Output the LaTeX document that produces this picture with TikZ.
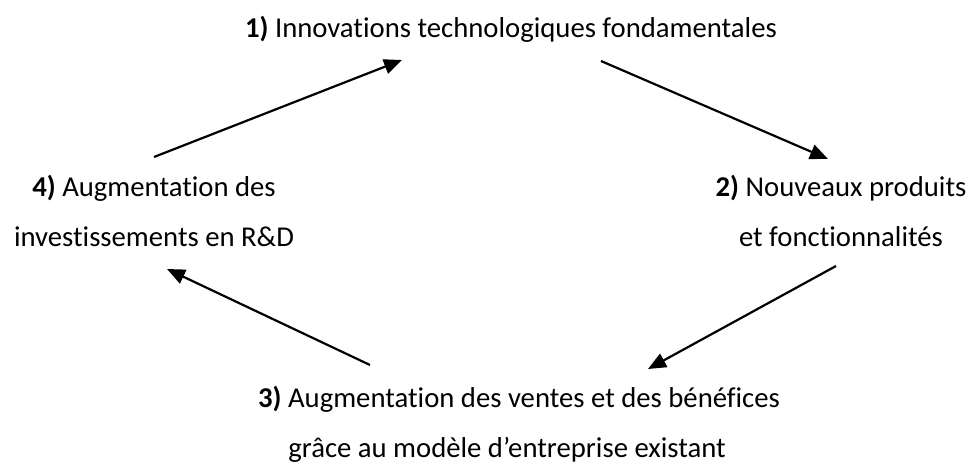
\documentclass[tikz,border=0pt]{standalone}
\usepackage{fontspec}
\setmainfont{Carlito}[Ligatures={NoCommon,NoContextual}]
\usetikzlibrary{arrows.meta}
\begin{document}
\begin{tikzpicture}[x=1pt,y=-1pt,
  lbl/.style={align=center,inner sep=0pt,font=\fontsize{28.7}{50}\selectfont,text=black},
  arr/.style={line width=2.2pt,-{Triangle[length=18pt,width=15pt]}}]
\useasboundingbox (0,0) rectangle (970,468);
\node[lbl] (n1) at (511,29) {\textbf{1)} Innovations technologiques fondamentales};
\node[lbl] (n2) at (841,211) {\textbf{2)} Nouveaux produits\\et fonctionnalités};
\node[lbl] (n3) at (519,424) {\textbf{3)} Augmentation des ventes et des bénéfices\\grâce au modèle d’entreprise existant\hspace*{24pt}};
\node[lbl] (n4) at (154,211) {\textbf{4)} Augmentation des\\investissements en R\&D};
\coordinate (a1s) at (154,157);
\coordinate (a1e) at (402,60);
\coordinate (a2s) at (601,61);
\coordinate (a2e) at (828,159);
\coordinate (a3s) at (836,266);
\coordinate (a3e) at (648,369);
\coordinate (a4s) at (370,365);
\coordinate (a4e) at (167,269);
\draw[arr] (a1s) -- (a1e);
\draw[arr] (a2s) -- (a2e);
\draw[arr] (a3s) -- (a3e);
\draw[arr] (a4s) -- (a4e);
\end{tikzpicture}
\end{document}
